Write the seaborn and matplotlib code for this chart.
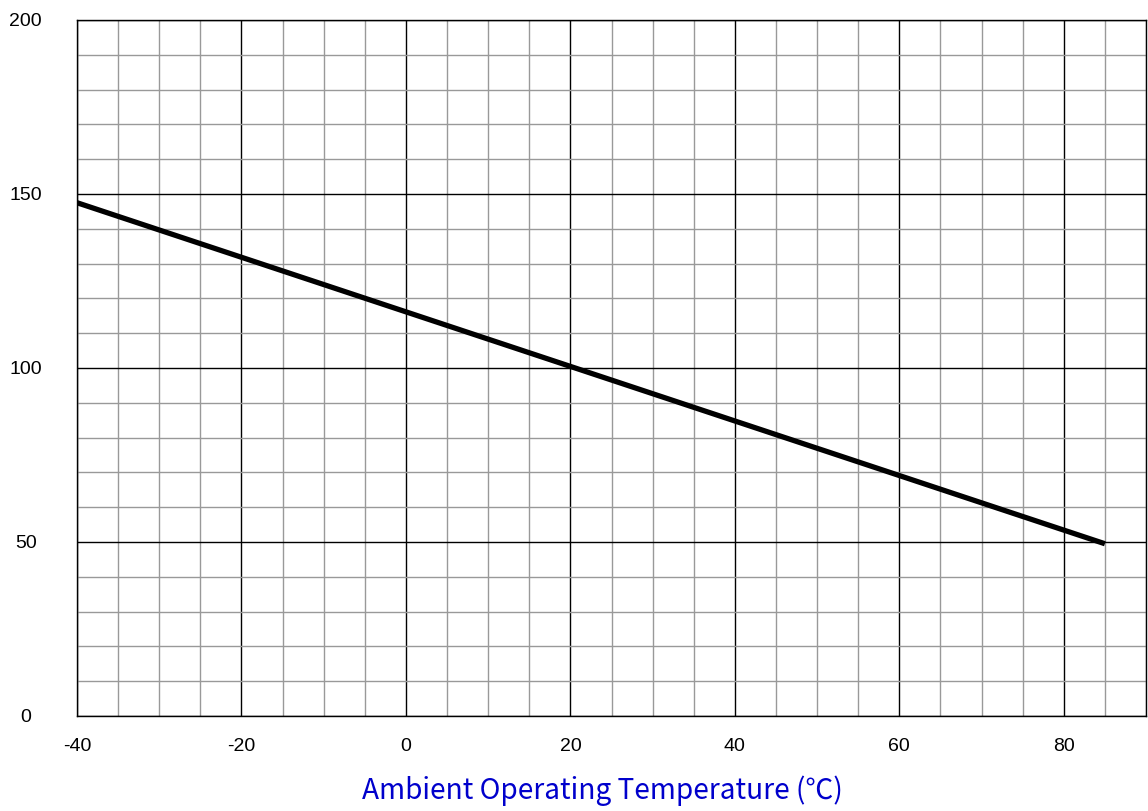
import matplotlib
matplotlib.use("Agg")
import matplotlib.pyplot as plt
from matplotlib.ticker import MultipleLocator
import seaborn as sns
import pandas as pd

temperature_c = [-40, 85]
value = [147.5, 49.5]
x_ticks = [-40, -20, 0, 20, 40, 60, 80]
y_ticks = [0, 50, 100, 150, 200]
x_label = "Ambient Operating Temperature (\u2103)"

sns.set_style("white")
plt.rcParams['font.family'] = ['Liberation Sans', 'DejaVu Sans']
plt.rcParams['axes.unicode_minus'] = False

df = pd.DataFrame({"t": temperature_c, "v": value})

fig = plt.figure(figsize=(11.48, 8.11), dpi=100)
ax = fig.add_axes([77/1148, 1-716/811, (1146-77)/1148, (716-20)/811])

ax.set_xlim(-40, 90)
ax.set_ylim(0, 200)
ax.xaxis.set_minor_locator(MultipleLocator(5))
ax.yaxis.set_minor_locator(MultipleLocator(10))
ax.set_xticks(x_ticks)
ax.set_yticks(y_ticks)
ax.grid(which='minor', color='#999999', linewidth=1.0)
ax.grid(which='major', color='black', linewidth=1.0)
ax.set_axisbelow(True)

sns.lineplot(data=df, x="t", y="v", color='black', linewidth=3.8, ax=ax,
             solid_capstyle='butt')

ax.tick_params(which='both', length=0, labelsize=14, labelcolor='black')
ax.tick_params(axis='y', pad=37)
ax.tick_params(axis='x', pad=16)
for lbl in ax.get_yticklabels():
    lbl.set_horizontalalignment('center')
for sp in ax.spines.values():
    sp.set_color('black')
    sp.set_linewidth(1.0)

ax.set_ylabel("")
ax.set_xlabel(x_label, color='#0000CC', fontsize=20.2, labelpad=17,
              family=['Noto Sans CJK SC', 'DejaVu Sans'])
ax.xaxis.set_label_coords(0.4916, -0.085)
ax.xaxis.label.set_verticalalignment('top')

fig.savefig("out.png", dpi=100)
